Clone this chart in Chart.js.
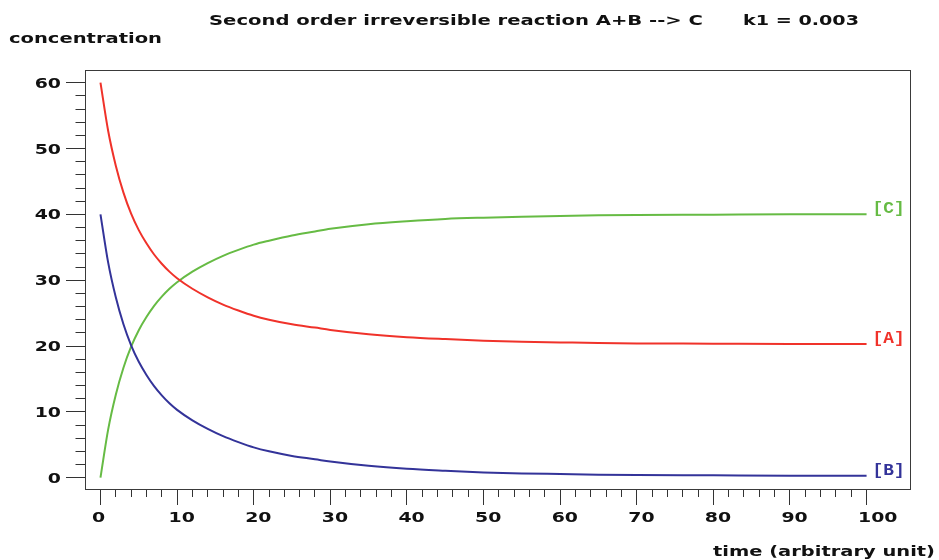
<!DOCTYPE html>
<html lang="en">

<head>
    <meta charset="UTF-8">
    <title>Second order irreversible reaction</title>
    <script src="https://cdn.jsdelivr.net/npm/chart.js@4.4.0/dist/chart.umd.min.js"></script>
    <style>
        body { margin: 0; background: #fff; }
        #wrap { width: 939px; height: 560px; }
    </style>
</head>

<body>
    <div id="wrap"><canvas id="myChart"></canvas></div>
</body>
<script>
    // values
    const times = [0, 1, 2, 3, 4, 5, 6, 7, 8, 9, 10, 12, 14, 16, 18, 20, 22, 25, 28, 30, 35, 40, 45, 50, 55, 60, 65, 70, 80, 90, 100];
    const concA = [60, 52.7, 47.4, 43.3, 40.1, 37.6, 35.6, 33.9, 32.5, 31.3, 30.3, 28.7, 27.4, 26.3, 25.4, 24.6, 24.0, 23.3, 22.8, 22.45, 21.8, 21.35, 21.05, 20.8, 20.65, 20.55, 20.45, 20.4, 20.35, 20.3, 20.3];
    const concB = [40, 32.7, 27.4, 23.3, 20.1, 17.6, 15.6, 13.9, 12.5, 11.3, 10.3, 8.7, 7.4, 6.3, 5.4, 4.6, 4.0, 3.3, 2.8, 2.45, 1.8, 1.35, 1.05, 0.8, 0.65, 0.55, 0.45, 0.4, 0.35, 0.3, 0.3];
    const concC = [0, 7.3, 12.6, 16.7, 19.9, 22.4, 24.4, 26.1, 27.5, 28.7, 29.7, 31.3, 32.6, 33.7, 34.6, 35.4, 36.0, 36.8, 37.4, 37.8, 38.5, 38.95, 39.3, 39.5, 39.65, 39.75, 39.85, 39.9, 39.95, 40.0, 40.0];
    const seriesNames = ['[A]', '[B]', '[C]'];
    const xTickLabels = [0, 10, 20, 30, 40, 50, 60, 70, 80, 90, 100];
    const yTickLabels = [0, 10, 20, 30, 40, 50, 60];

    const RED = '#f0322a';
    const BLUE = '#333399';
    const GREEN = '#66bb44';
    const FONT = 'bold 14px "DejaVu Sans"';

    function points(ys) {
        return times.map((t, i) => ({ x: t, y: ys[i] }));
    }

    // tick marks every 2 units, labels only on the listed ones
    function minorTicks(max) {
        const out = [];
        for (let v = 0; v <= max; v += 2) out.push({ value: v });
        return out;
    }

    // the reference text is stretched sideways, so draw it scaled
    function fitText(ctx, text, x, y, w, font, color, baseline) {
        ctx.save();
        ctx.font = font;
        const m = ctx.measureText(text).width;
        ctx.restore();
        stretchText(ctx, text, x, y, w / m, font, color, 'left', baseline);
    }

    function stretchText(ctx, text, x, y, sx, font, color, align, baseline) {
        ctx.save();
        ctx.font = font;
        ctx.fillStyle = color;
        ctx.textAlign = align || 'left';
        ctx.textBaseline = baseline || 'alphabetic';
        ctx.translate(x, y);
        ctx.scale(sx, 1);
        ctx.fillText(text, 0, 0);
        ctx.restore();
    }

    const decor = {
        id: 'decor',
        afterDraw(chart) {
            const ctx = chart.ctx;
            const a = chart.chartArea;
            const xs = chart.scales.x, ys = chart.scales.y;

            ctx.save();
            ctx.strokeStyle = '#3a3a3a';
            ctx.lineWidth = 1;
            ctx.strokeRect(a.left + 0.5, a.top + 0.5, a.right - a.left - 1, a.bottom - a.top);
            ctx.restore();

            // tick labels at the scale positions
            xTickLabels.forEach(v => {
                stretchText(ctx, String(v), xs.getPixelForValue(v) - 8.5, 521.5, 1.35, FONT, '#111', 'left');
            });
            yTickLabels.forEach(v => {
                stretchText(ctx, String(v), 61, ys.getPixelForValue(v) + 5, 1.35, FONT, '#111', 'right');
            });

            fitText(ctx, 'Second order irreversible reaction A+B --> C', 209, 25, 494, FONT, '#111');
            fitText(ctx, 'k1 = 0.003', 743, 25, 116, FONT, '#111');
            fitText(ctx, 'concentration', 9, 43, 153, FONT, '#111');
            fitText(ctx, 'time (arbitrary unit)', 713, 556, 222, FONT, '#111');

            // end labels next to each curve
            const lastX = xs.getPixelForValue(times[times.length - 1]) + 6;
            const ends = [concA, concB, concC];
            const cols = [RED, BLUE, GREEN];
            ends.forEach((arr, i) => {
                const py = ys.getPixelForValue(arr[arr.length - 1]) - 5;
                fitText(ctx, seriesNames[i], lastX, py, 32, 'bold 16px "Liberation Mono"', cols[i], 'middle');
            });
        }
    };

    const ctx = document.getElementById('myChart').getContext('2d');
    const myChart = new Chart(ctx, {
        type: 'line',
        data: {
            datasets: [{
                label: seriesNames[0],
                data: points(concA),
                borderColor: RED,
            }, {
                label: seriesNames[1],
                data: points(concB),
                borderColor: BLUE,
            }, {
                label: seriesNames[2],
                data: points(concC),
                borderColor: GREEN,
            }],
        },
        options: {
            responsive: true,
            maintainAspectRatio: false,
            animation: false,
            elements: {
                line: { borderWidth: 2, fill: false, cubicInterpolationMode: 'monotone' },
                point: { radius: 0 }
            },
            layout: { padding: { top: 70, right: 28, left: 0, bottom: 0 } },
            plugins: {
                legend: { display: false },
                tooltip: { enabled: false },
                title: { display: false }
            },
            scales: {
                x: {
                    type: 'linear',
                    min: -2.02,
                    max: 105.8,
                    afterBuildTicks: (axis) => { axis.ticks = minorTicks(100); },
                    afterFit: (scale) => { scale.height = 71; },
                    border: { display: false },
                    grid: {
                        drawOnChartArea: false,
                        drawTicks: true,
                        tickLength: 16,
                        tickColor: '#333',
                        tickWidth: 1,
                        tickBorderDash: (c) => xTickLabels.includes(c.tick.value) ? [] : [8, 30]
                    },
                    ticks: { display: false, autoSkip: false, maxRotation: 0 }
                },
                y: {
                    type: 'linear',
                    min: -1.72,
                    max: 61.93,
                    afterBuildTicks: (axis) => { axis.ticks = minorTicks(60); },
                    afterFit: (scale) => { scale.width = 85; },
                    border: { display: false },
                    grid: {
                        drawOnChartArea: false,
                        drawTicks: true,
                        tickLength: 19,
                        tickColor: '#333',
                        tickWidth: 1,
                        tickBorderDash: (c) => yTickLabels.includes(c.tick.value) ? [] : [10, 9.5],
                        tickBorderDashOffset: (c) => yTickLabels.includes(c.tick.value) ? 0 : 10
                    },
                    ticks: { display: false, autoSkip: false }
                }
            }
        },
        plugins: [decor]
    });
</script>

</html>
